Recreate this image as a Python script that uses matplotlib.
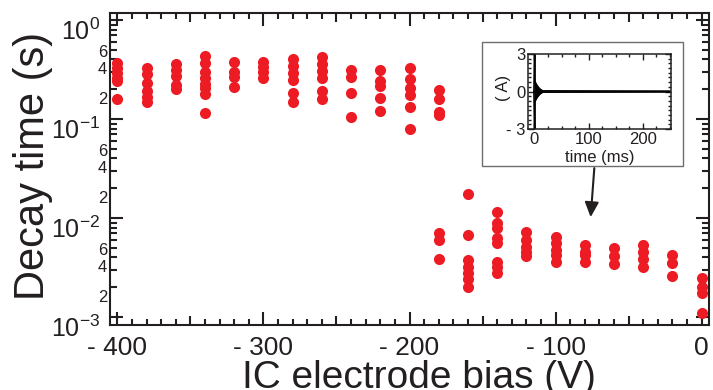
import matplotlib
matplotlib.use('Agg')
import matplotlib.pyplot as plt
import numpy as np
from matplotlib.ticker import MultipleLocator, FixedLocator, FuncFormatter
from matplotlib.patches import Rectangle
from matplotlib.transforms import ScaledTranslation

plt.rcParams['font.family'] = ['Liberation Sans', 'DejaVu Sans']
plt.rcParams['mathtext.fontset'] = 'custom'
plt.rcParams['mathtext.rm'] = 'Liberation Sans'

ink = '#231f20'
red = '#ed1c24'

# IC electrode bias (V) and the decay times measured at each bias (s)
bias_v = [-400, -380, -360, -340, -320, -300, -280, -260, -240, -220, -200,
          -180, -160, -140, -120, -100, -80, -60, -40, -20, 0]
decay_s = [
    [0.37, 0.33, 0.29, 0.26, 0.24, 0.16],
    [0.33, 0.285, 0.23, 0.19, 0.167, 0.15],
    [0.36, 0.31, 0.27, 0.22, 0.20],
    [0.43, 0.37, 0.30, 0.26, 0.226, 0.206, 0.18, 0.115],
    [0.38, 0.30, 0.266, 0.21],
    [0.38, 0.335, 0.30, 0.26],
    [0.40, 0.345, 0.29, 0.25, 0.183, 0.15],
    [0.42, 0.36, 0.305, 0.26, 0.19, 0.16],
    [0.31, 0.266, 0.183, 0.105],
    [0.31, 0.24, 0.215, 0.163, 0.12],
    [0.33, 0.254, 0.206, 0.175, 0.132, 0.079],
    [0.196, 0.159, 0.118, 0.11, 0.0071, 0.006, 0.0039],
    [0.0175, 0.0067, 0.0038, 0.0032, 0.0028, 0.0024, 0.002],
    [0.0115, 0.0089, 0.0079, 0.0063, 0.0056, 0.0036, 0.0032, 0.0028],
    [0.0072, 0.006, 0.0051, 0.0045, 0.0041],
    [0.0064, 0.0056, 0.0048, 0.0042, 0.0036],
    [0.0053, 0.0045, 0.0042, 0.0036],
    [0.005, 0.0041, 0.0034],
    [0.0053, 0.0045, 0.0039, 0.0032],
    [0.0042, 0.0035, 0.0026],
    [0.0025, 0.002, 0.00175, 0.0011],
]

# inset: current trace envelope (A) vs time (ms)
t_ms = [-1, 0, 0.5, 1, 3, 6, 10, 15, 250]
env_a = [0, 3, 3, 0.8, 0.6, 0.4, 0.2, 0.05, 0.03]

fig = plt.figure(figsize=(7.13, 3.9), dpi=100)
ax = fig.add_axes([110/713, 1-325/390, 599/713, 312/390])

for b, taus in zip(bias_v, decay_s):
    ax.plot([b]*len(taus), taus, 'o', color=red, ms=8, mew=0, clip_on=False)

ax.set_yscale('log')
ax.set_xlim(-405, 5)
ax.set_ylim(8.3e-4, 1.18)

# y ticks
ax.yaxis.set_major_locator(FixedLocator([1e-3, 1e-2, 1e-1, 1]))
ax.yaxis.set_major_formatter(FuncFormatter(
    lambda v, p: r'$\mathregular{10^{%d}}$' % round(np.log10(v))))
minor_y = [m * 10.0**e for e in (-3, -2, -1) for m in range(2, 10)]
ax.yaxis.set_minor_locator(FixedLocator(minor_y))

def minor_lab(v, p):
    m = int(round(v / 10**np.floor(np.log10(v) + 1e-9)))
    return str(m) if m in (2, 4, 6) else ''
ax.yaxis.set_minor_formatter(FuncFormatter(minor_lab))

# x ticks
ax.xaxis.set_major_locator(MultipleLocator(50))
ax.xaxis.set_minor_locator(MultipleLocator(10))
def xlab(v, p):
    if abs(v) < 1e-6:
        return '0'
    if round(v) % 100:
        return ''
    return '- %d' % abs(round(v))
ax.xaxis.set_major_formatter(FuncFormatter(xlab))

ax.tick_params(axis='y', which='major', direction='in', length=9.4, width=1.5,
               pad=7, labelsize=18, right=True, color=ink, labelcolor=ink)
ax.tick_params(axis='y', which='minor', direction='in', length=5, width=1.5,
               pad=2, labelsize=12, right=True, color=ink, labelcolor=ink)
ax.tick_params(axis='x', which='major', direction='in', length=9.4, width=1.5,
               pad=8, labelsize=19, top=True, color=ink, labelcolor=ink)
ax.tick_params(axis='x', which='minor', direction='in', length=4.3, width=1.5,
               top=True, color=ink)

for s in ax.spines.values():
    s.set_linewidth(1.5)
    s.set_color(ink)

# medium ticks at the odd fifties
locs = ax.xaxis.get_majorticklocs()
for loc, tk in zip(locs, ax.xaxis.get_major_ticks(len(locs))):
    if round(loc) % 100:
        tk.tick1line.set_markersize(6.5)
        tk.tick2line.set_markersize(6.5)

# y labels sit a little below their ticks in the original
off = ScaledTranslation(0, -0.09, fig.dpi_scale_trans)
ylocs = ax.yaxis.get_majorticklocs()
ymin = ax.yaxis.get_minorticklocs()
for tk in ax.yaxis.get_major_ticks(len(ylocs)) + ax.yaxis.get_minor_ticks(len(ymin)):
    tk.label1.set_transform(tk.label1.get_transform() + off)

ax.set_xlabel('IC electrode bias (V)', fontsize=28, color=ink, va='baseline')
ax.xaxis.set_label_coords(0.515, -0.202)
ax.set_ylabel('Decay time (s)', fontsize=30, color=ink, va='center')
ax.yaxis.set_label_coords(-0.128, 0.51)

ax.annotate('', xy=(-76, 0.0102), xytext=(-73.5, 0.032),
            arrowprops=dict(arrowstyle='-|>,head_length=0.9,head_width=0.42',
                            color=ink, lw=1.5, shrinkA=0, shrinkB=0,
                            mutation_scale=10))

# inset
fig.add_artist(Rectangle((481.7/713, 1-166/390), (683-481.7)/713, 124/390,
                         transform=fig.transFigure, fc='white', ec='#6d6e71',
                         lw=1.0, zorder=3))
ins = fig.add_axes([528/713, 1-129/390, 142.7/713, 75/390])
ins.set_zorder(4)
neg = [-a for a in env_a]
ins.fill_between(t_ms, neg, env_a, color='k', lw=0)
ins.plot(t_ms, env_a, color='k', lw=1.2)
ins.plot(t_ms, neg, color='k', lw=1.2)
ins.set_xlim(-12, 252)
ins.set_ylim(-3, 3)
ins.set_xticks([0, 100, 200])
ins.xaxis.set_minor_locator(MultipleLocator(25))
ins.set_yticks([-3, 0, 3])
ins.set_yticklabels(['- 3', '0', '3'])
ins.yaxis.set_minor_locator(MultipleLocator(0.375))
ins.tick_params(which='both', direction='in', top=True, right=True, width=1,
                color=ink, labelcolor=ink, labelsize=12)
ins.tick_params(which='major', length=4)
ins.tick_params(which='minor', length=2)
ins.tick_params(axis='y', pad=2)
ins.tick_params(axis='x', pad=2.5)
for s in ins.spines.values():
    s.set_linewidth(1.1)
    s.set_color(ink)
ins.set_xlabel('time (ms)', fontsize=12, color=ink, va='baseline')
ins.xaxis.set_label_coords(0.505, -0.44)
ins.set_ylabel('( A)', fontsize=12, color=ink, va='center')
ins.yaxis.set_label_coords(-0.175, 0.547)

fig.savefig('out.png', dpi=100)
